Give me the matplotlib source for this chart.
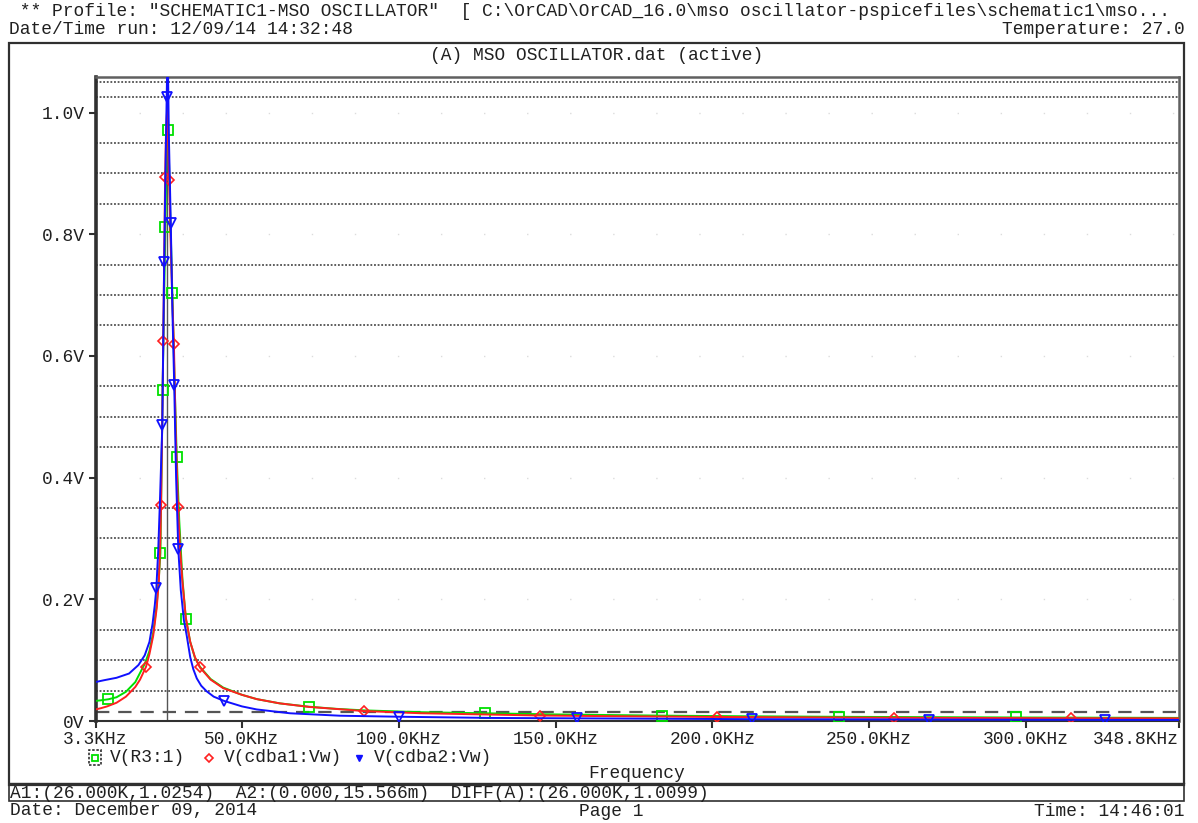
import matplotlib
matplotlib.use("Agg")
import matplotlib.pyplot as plt
from matplotlib.lines import Line2D
from matplotlib.patches import Rectangle

W, H, DPI = 1198, 823, 100
FONT = "Liberation Mono"
FS = 12.9

# ---------------- trace data (frequency in kHz, voltage in V) ----------------
green_f = [3.3, 5.0, 7.4, 10, 13, 16, 19.1, 20.5, 21.7, 22.8, 23.5, 24.0, 24.4, 24.7,
           25.2, 25.6, 25.9, 26.2, 26.5, 27.1, 27.8, 28.5, 29.2, 30.0, 31.0, 32.1,
           33.5, 35, 36.6, 40, 44, 50, 54.7, 62, 71.3, 80, 88.8, 106.7, 127.4, 150,
           184.0, 210, 240.3, 270, 296.8, 320, 348.8]
green_v = [0.033, 0.034, 0.0357, 0.039, 0.048, 0.064, 0.095, 0.115, 0.145, 0.19, 0.235,
           0.276, 0.42, 0.544, 0.70, 0.812, 0.93, 1.04, 0.972, 0.84, 0.703, 0.56, 0.434,
           0.33, 0.235, 0.168, 0.13, 0.104, 0.089, 0.069, 0.055, 0.043, 0.036, 0.029,
           0.0235, 0.020, 0.0175, 0.0145, 0.0127, 0.0108, 0.0088, 0.0078, 0.0069,
           0.0063, 0.0058, 0.0055, 0.0051]
green_marks = [7.4, 24.0, 24.7, 25.6, 26.5, 27.8, 29.2, 32.1, 71.3, 127.4, 184.0, 240.3, 296.8]

red_f = [3.3, 5.0, 7.0, 10, 13, 16, 17.5, 19.4, 20.5, 21.7, 22.8, 23.5, 24.0, 24.2,
         24.6, 24.9, 25.2, 25.5, 25.8, 26.15, 26.8, 27.3, 27.8, 28.3, 28.9, 29.6, 30.3,
         31.0, 32.1, 33.5, 35, 36.6, 40, 44, 50, 54.7, 62, 71.3, 88.8, 106.7, 144.9,
         170, 201.6, 230, 257.8, 290, 314.3, 348.8]
red_v = [0.019, 0.021, 0.024, 0.030, 0.040, 0.056, 0.068, 0.089, 0.11, 0.14, 0.185,
         0.23, 0.30, 0.355, 0.50, 0.624, 0.76, 0.894, 0.97, 1.005, 0.889, 0.78, 0.69,
         0.62, 0.47, 0.352, 0.28, 0.23, 0.17, 0.13, 0.105, 0.088, 0.068, 0.054, 0.043,
         0.036, 0.029, 0.0232, 0.0164, 0.0128, 0.0090, 0.0078, 0.0066, 0.0059, 0.0053,
         0.0049, 0.0046, 0.0044]
red_marks = [19.4, 24.2, 24.9, 25.5, 26.8, 28.3, 29.6, 36.6, 88.8, 144.9, 201.6, 257.8, 314.3]

blue_f = [3.3, 6, 10, 14, 17, 19, 20.5, 21.5, 22.2, 22.7, 23.3, 23.9, 24.6, 25.2, 25.7,
          26.0, 26.3, 26.7, 27.3, 27.8, 28.4, 29.0, 29.7, 30.5, 31.5, 32.4, 33.5, 34.5,
          35.6, 37, 38.7, 41, 44.3, 50, 54.7, 65.3, 81.2, 100.1, 130, 156.7, 212.6,
          269.2, 325.3, 348.8]
blue_v = [0.064, 0.067, 0.071, 0.078, 0.092, 0.108, 0.13, 0.16, 0.19, 0.218, 0.28, 0.37,
          0.486, 0.754, 0.93, 1.0254, 1.12, 0.96, 0.819, 0.68, 0.552, 0.40, 0.282, 0.215,
          0.165, 0.14, 0.105, 0.085, 0.07, 0.058, 0.049, 0.04, 0.033, 0.024, 0.019,
          0.0127, 0.0087, 0.007, 0.005, 0.0044, 0.003, 0.0024, 0.0019, 0.0018]
blue_marks = [22.7, 24.6, 25.2, 26.0, 27.3, 28.4, 29.7, 44.3, 100.1, 156.7, 212.6, 269.2, 325.3]

x_ticks = [3.3, 50, 100, 150, 200, 250, 300, 348.8]
x_tick_labels = ["3.3KHz", "50.0KHz", "100.0KHz", "150.0KHz", "200.0KHz",
                 "250.0KHz", "300.0KHz", "348.8KHz"]
y_ticks = [0.0, 0.2, 0.4, 0.6, 0.8, 1.0]
y_tick_labels = ["0V", "0.2V", "0.4V", "0.6V", "0.8V", "1.0V"]
minor_grid = [0.05, 0.10, 0.15, 0.25, 0.30, 0.35, 0.45, 0.50, 0.55, 0.65, 0.70, 0.75,
              0.85, 0.90, 0.95, 1.025, 1.05]

cursor_a1 = (26.0, 1.0254)
cursor_a2 = (0.0, 0.015566)

trace_names = ["V(R3:1)", "V(cdba1:Vw)", "V(cdba2:Vw)"]
trace_colors = ["#00e000", "#ff2020", "#1010ff"]

# ---------------- figure ----------------
fig = plt.figure(figsize=(W / DPI, H / DPI), dpi=DPI)
fig.patch.set_facecolor("white")


def fx(x):
    return x / W


def fy(y):
    return 1 - y / H


def ftext(x, y, s, ha="left", **kw):
    fig.text(fx(x), fy(y), s, ha=ha, va="center", family=FONT, fontsize=FS,
             color="#202020", **kw)


# plot area
L, R, T, B = 95.5, 1179, 77, 721
ax = fig.add_axes([fx(L), fy(B), (R - L) / W, (B - T) / H])
ax.set_xlim(3.3, 348.8)
ax.set_ylim(0, (B - T) / 608.5)

for v in minor_grid:
    ax.axhline(v, color="#505050", lw=1.3, ls=(0, (1, 1)), zorder=1)
for v in y_ticks[1:]:
    ax.axhline(v, color="#dcdcdc", lw=1.0, ls=(0, (1, 30)), zorder=1)

# cursors
ax.axvline(cursor_a1[0], color="#555555", lw=1.0, zorder=2)
ax.axhline(cursor_a2[1], color="#555555", lw=1.6, ls=(0, (6, 4)), zorder=2)


def mark_idx(fs, marks):
    return [fs.index(m) for m in marks]


ax.plot(green_f, green_v, color=trace_colors[0], lw=1.4, marker="s", ms=7,
        mfc="none", mew=1.3, markevery=mark_idx(green_f, green_marks), zorder=3)
ax.plot(red_f, red_v, color=trace_colors[1], lw=1.4, marker="D", ms=5,
        mfc="none", mew=1.2, markevery=mark_idx(red_f, red_marks), zorder=4)
ax.plot(blue_f, blue_v, color=trace_colors[2], lw=1.4, marker="v", ms=7,
        mfc="none", mew=1.3, markevery=mark_idx(blue_f, blue_marks), zorder=5)

ax.set_xticks(x_ticks)
ax.set_xticklabels(x_tick_labels)
ax.set_yticks(y_ticks)
ax.set_yticklabels(y_tick_labels)
ax.tick_params(axis="both", direction="out", length=5, width=1.5, color="#303030",
               labelsize=FS, labelcolor="#202020", pad=3)
ax.tick_params(axis="x", pad=2)
for lab in ax.get_xticklabels() + ax.get_yticklabels():
    lab.set_family(FONT)
ax.get_xticklabels()[-1].set_horizontalalignment("right")

ax.spines["left"].set_linewidth(2.6)
ax.spines["left"].set_color("#303030")
ax.spines["bottom"].set_linewidth(1.5)
ax.spines["bottom"].set_color("#303030")
for s in ("top", "right"):
    ax.spines[s].set_linewidth(1.8)
    ax.spines[s].set_color("#606060")

# ---------------- page frame ----------------
fig.add_artist(Rectangle((fx(9), fy(785)), (1184 - 9) / W, (785 - 43) / H,
                         fill=False, lw=1.6, ec="#303030", transform=fig.transFigure))
fig.add_artist(Rectangle((fx(9), fy(801)), (1184 - 9) / W, (801 - 785) / H,
                         fill=False, lw=1.2, ec="#303030", transform=fig.transFigure))
fig.add_artist(Line2D([fx(9), fx(1184)], [fy(783), fy(783)], lw=1.0, color="#303030"))

# header / footer text
ftext(9, 12, ' ** Profile: "SCHEMATIC1-MSO OSCILLATOR"  [ C:\\OrCAD\\OrCAD_16.0\\mso '
      'oscillator-pspicefiles\\schematic1\\mso...')
ftext(9, 29, "Date/Time run: 12/09/14 14:32:48")
ftext(1185, 29, "Temperature: 27.0", ha="right")
ftext(597, 55, "(A) MSO OSCILLATOR.dat (active)", ha="center")
ftext(637, 774, "Frequency", ha="center")
ftext(10, 793, "A1:(26.000K,1.0254)  A2:(0.000,15.566m)  DIFF(A):(26.000K,1.0099)")
ftext(10, 811, "Date: December 09, 2014")
ftext(611, 811, "Page 1", ha="center")
ftext(1185, 811, "Time: 14:46:01", ha="right")

# legend
LY = 757.5
fig.add_artist(Rectangle((fx(89), fy(LY + 7.5)), 12 / W, 15 / H, fill=False, lw=1.2,
                         ls=(0, (1.5, 1)), ec="#303030", transform=fig.transFigure))
fig.add_artist(Line2D([fx(95)], [fy(LY)], marker="s", ms=5, mfc="none",
                      mec=trace_colors[0], mew=1.3))
ftext(110, LY, trace_names[0])
fig.add_artist(Line2D([fx(209)], [fy(LY)], marker="D", ms=4, mfc="none",
                      mec=trace_colors[1], mew=1.2))
ftext(224, LY, trace_names[1])
fig.add_artist(Line2D([fx(359)], [fy(LY)], marker="v", ms=5, mfc=trace_colors[2],
                      mec=trace_colors[2]))
ftext(374, LY, trace_names[2])

fig.savefig("out.png", dpi=DPI)
